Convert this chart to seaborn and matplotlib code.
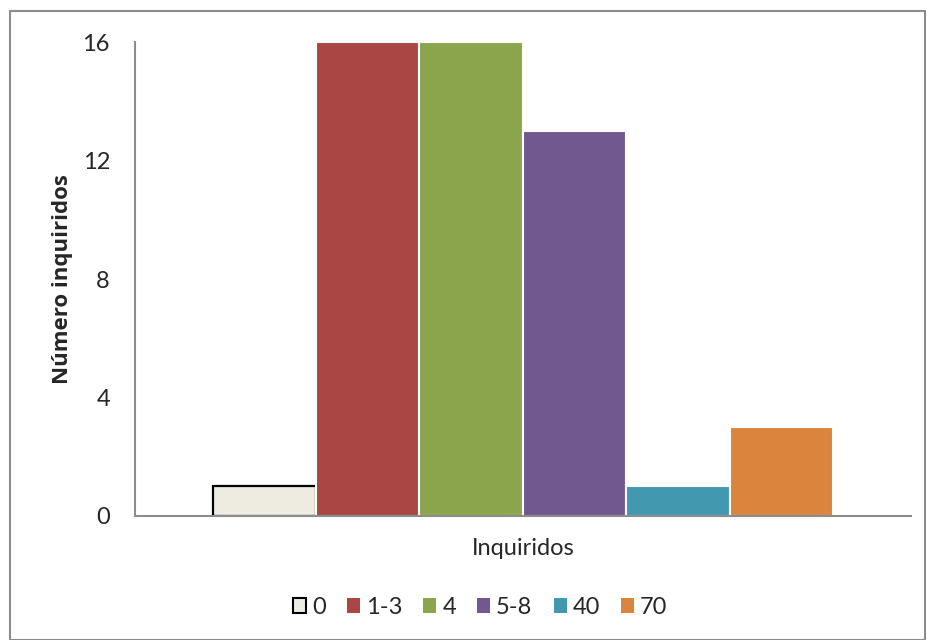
import seaborn as sns
import matplotlib.pyplot as plt
import pandas as pd
from matplotlib.patches import Patch, Rectangle

# data
groups = ["0", "1-3", "4", "5-8", "40", "70"]
counts = [1, 16, 16, 13, 1, 3]
colors = ["#EEECE1", "#AA4644", "#8BA54D", "#71598F", "#4198AF", "#DB843D"]
category = "Inquiridos"
y_ticks = [0, 4, 8, 12, 16]

df = pd.DataFrame({"cat": [category] * len(groups), "grupo": groups, "n": counts})

sns.set_style("white")
plt.rcParams["font.family"] = ["Lato", "DejaVu Sans"]

fig = plt.figure(figsize=(9.27, 6.4), dpi=100)
ax = fig.add_axes([0.1456, 0.194, 0.837, 0.740])

sns.barplot(data=df, x="cat", y="n", hue="grupo", hue_order=groups,
            palette=dict(zip(groups, colors)), saturation=1, width=0.8,
            ax=ax, legend=False)

for i, cont in enumerate(ax.containers):
    for p in cont.patches:
        if i == 0:
            p.set_edgecolor("black")
            p.set_linewidth(1.6)
        else:
            p.set_edgecolor("white")
            p.set_linewidth(1.5)

ax.set_xlim(-0.5, 0.5)
ax.set_ylim(0, 16)
ax.set_yticks(y_ticks)
ax.tick_params(axis="y", labelsize=17, length=0, pad=18)
ax.set_xticks([])
ax.set_xlabel(category, fontsize=17, labelpad=16)
ax.set_ylabel("Número inquiridos", fontsize=16, fontweight="bold",
              family=["Open Sans", "DejaVu Sans"], labelpad=7)

for s in ["top", "right"]:
    ax.spines[s].set_visible(False)
for s in ["left", "bottom"]:
    ax.spines[s].set_color("#8C8C8C")
    ax.spines[s].set_linewidth(1.5)

handles = [Patch(facecolor=c, edgecolor=("black" if i == 0 else c), linewidth=1.5 if i == 0 else 0)
           for i, c in enumerate(colors)]
fig.legend(handles=handles, labels=groups, loc="center", bbox_to_anchor=(0.518, 0.051),
           ncol=6, frameon=False, fontsize=17, handlelength=0.55, handleheight=0.55,
           handletextpad=0.25, columnspacing=0.9)

fig.patches.append(Rectangle((0.011, 0.0), 0.987, 0.983, transform=fig.transFigure,
                             fill=False, edgecolor="#8C8C8C", linewidth=1.5))

fig.savefig("out.png", dpi=100)
